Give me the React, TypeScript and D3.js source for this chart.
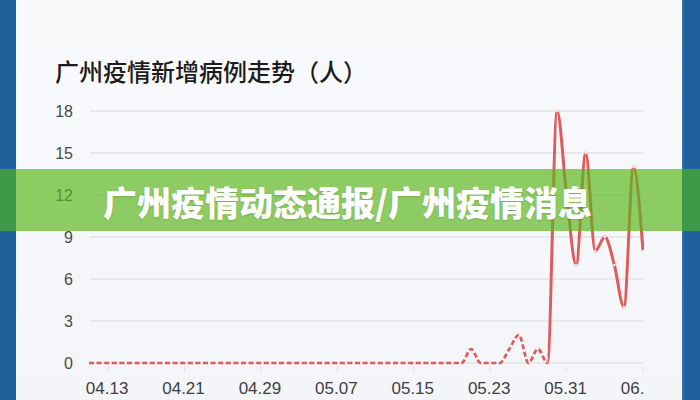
import React from 'react';
import * as d3 from 'd3';

// 数据：04.11 - 06.08 每日新增
const START = new Date(2022, 3, 11);
const END = new Date(2022, 5, 9);
const fmt = d3.timeFormat('%m.%d');
const dates = d3.timeDay.range(START, END).map(d => fmt(d));

const cases = [
    0, 0, 0, 0, 0, 0, 0, 0, 0, 0,
    0, 0, 0, 0, 0, 0, 0, 0, 0, 0,
    0, 0, 0, 0, 0, 0, 0, 0, 0, 0,
    0, 0, 0, 0, 0, 0, 0, 0, 0, 0,
    1, 0, 0, 0, 1, 2, 0, 1, 0, 18,
    12, 7, 15, 8, 9, 7, 4, 14, 8,
];

const xTicks = ['04.13', '04.21', '04.29', '05.07', '05.15', '05.23', '05.31', '06.08'];
const yTicks = [0, 3, 6, 9, 12, 15, 18];

const TITLE = '广州疫情新增病例走势（人）';
const BANNER = '广州疫情动态通报/广州疫情消息';
const DASH_UNTIL = '05.29';

const W = 700;
const H = 400;
const PLOT = { left: 89, right: 643, top: 111, bottom: 363 };
const CLIP_RIGHT = 644.2;
const RED = '#e05a5b';
const GRID = '#e2e3e8';
const CJK = '"Noto Sans CJK SC", "Noto Sans", sans-serif';
const LATIN = '"Liberation Sans", Arial, sans-serif';

export default function App() {
    const x = d3.scalePoint<string>().domain(dates).range([PLOT.left, PLOT.right]);
    const y = d3.scaleLinear().domain([0, 18]).range([PLOT.bottom, PLOT.top]);

    const line = d3.line<number>()
        .x((_, i) => x(dates[i])!)
        .y(d => y(d))
        .curve(d3.curveMonotoneX);
    const path = line(cases) || '';
    const split = x(DASH_UNTIL)!;

    return (
        <svg width={W} height={H} style={{ position: 'absolute', left: 0, top: 0, display: 'block' }}>
            <defs>
                <linearGradient id="bg" x1="0" y1="0" x2="0" y2="1">
                    <stop offset="0" stopColor="#f9fafc" />
                    <stop offset="1" stopColor="#f4f5f9" />
                </linearGradient>
                <clipPath id="chartClip">
                    <rect x={0} y={0} width={CLIP_RIGHT} height={H} />
                </clipPath>
                <clipPath id="dashClip">
                    <rect x={0} y={0} width={split} height={H} />
                </clipPath>
                <clipPath id="solidClip">
                    <rect x={split} y={0} width={CLIP_RIGHT - split} height={H} />
                </clipPath>
            </defs>

            <rect x={0} y={0} width={W} height={H} fill="url(#bg)" />
            <rect x={0} y={0} width={16} height={H} fill="#1f5f9c" />
            <rect x={682} y={0} width={18} height={H} fill="#1f5f9c" />
            <rect x={682} y={0} width={2} height={H} fill="#2e6faa" />

            <text x={55} y={70} dominantBaseline="central" fontFamily={CJK} fontSize={24} fontWeight={500} fill="#1c1c1c">
                {TITLE}
            </text>

            <g clipPath="url(#chartClip)">
                {yTicks.map(t => (
                    <g key={t}>
                        <line x1={90} x2={PLOT.right} y1={y(t)} y2={y(t)} stroke={GRID} strokeWidth={1.5} />
                        <text x={73} y={y(t)} dominantBaseline="central" textAnchor="end"
                            fontFamily={LATIN} fontSize={16} fill="#4a4a4a">{t}</text>
                    </g>
                ))}

                {xTicks.map(t => (
                    <g key={t}>
                        <line x1={x(t)!} x2={x(t)!} y1={366} y2={372} stroke={GRID} strokeWidth={1} />
                        <text x={x(t)! - 1} y={394} textAnchor="middle"
                            fontFamily={LATIN} fontSize={17} fill="#3f3f3f">{t}</text>
                    </g>
                ))}

                <path d={path} fill="none" stroke={RED} strokeWidth={2.7} strokeDasharray="5 2.6"
                    clipPath="url(#dashClip)" />
                <path d={path} fill="none" stroke={RED} strokeWidth={3} strokeLinejoin="round"
                    clipPath="url(#solidClip)" />
                {cases.map((v, i) => i > dates.indexOf(DASH_UNTIL) ? (
                    <circle key={i} cx={x(dates[i])!} cy={y(v)} r={1.3} fill="#ffffff" opacity={0.9} />
                ) : null)}
            </g>

            <rect x={16} y={169} width={666} height={62} fill="rgb(92,182,26)" opacity={0.68} />
            <rect x={0} y={169} width={16} height={62} fill="#3f9a48" />
            <rect x={682} y={169} width={18} height={62} fill="#3f9a48" />
            <text x={103} y={201} dominantBaseline="central" fontFamily={CJK} fontSize={34} fontWeight={900}
                fill="#ffffff" style={{ textShadow: '0 1px 2px rgba(0,0,0,0.15)' }}>
                {BANNER}
            </text>
        </svg>
    );
}
